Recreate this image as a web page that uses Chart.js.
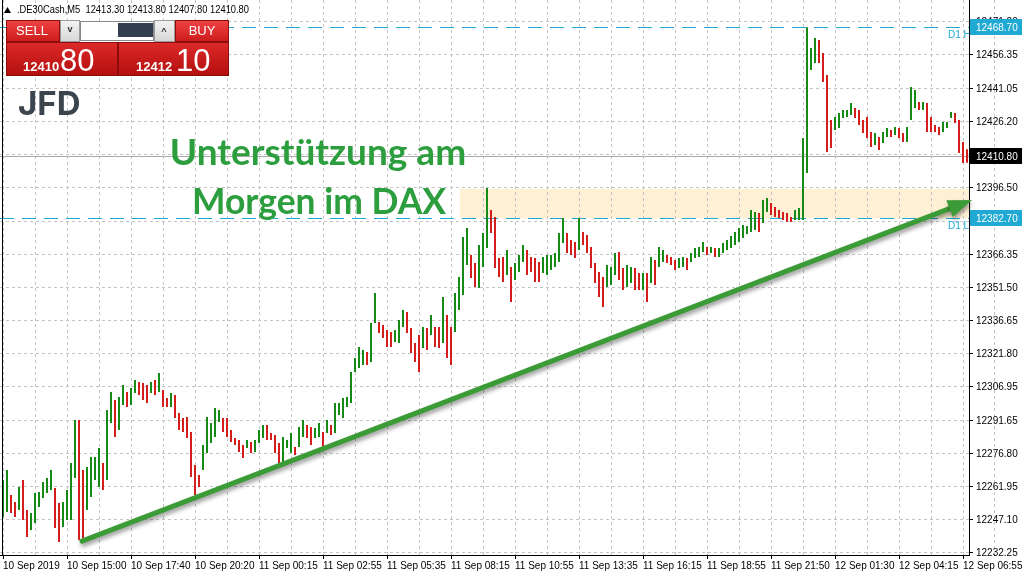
<!DOCTYPE html>
<html>
<head>
<meta charset="utf-8">
<script src="https://cdn.jsdelivr.net/npm/chart.js@4.4.1/dist/chart.umd.min.js"></script>
<style>
  html, body { margin: 0; padding: 0; background: #fff; overflow: hidden; }
  #wrap { width: 1024px; height: 576px; }
</style>
</head>
<body>
<div id="wrap"><canvas id="chart" width="1024" height="576"></canvas></div>
<script>
// Donnees : barres de 10 minutes (hauts / bas)
const highs = [
  12265.0, 12269.5, 12258.3, 12255.1, 12261.9, 12265.0, 12251.5, 12250.2, 12259.2, 12259.6,
  12264.1, 12265.9, 12269.5, 12261.4, 12254.7, 12255.1, 12260.5, 12272.7, 12292.0, 12292.0,
  12269.5, 12270.9, 12275.4, 12275.4, 12279.4, 12272.7, 12296.5, 12304.6, 12301.0, 12302.4,
  12307.8, 12304.6, 12306.4, 12310.0, 12309.1, 12308.7, 12307.8, 12309.1, 12310.0, 12313.2,
  12305.5, 12301.9, 12304.2, 12303.3, 12295.2, 12292.9, 12293.4, 12286.6, 12271.8, 12267.3,
  12280.8, 12293.4, 12290.7, 12297.4, 12296.5, 12292.9, 12292.9, 12287.5, 12283.9, 12283.0,
  12280.8, 12283.0, 12282.1, 12283.0, 12287.5, 12289.8, 12289.8, 12286.2, 12285.3, 12281.7,
  12284.4, 12283.0, 12286.2, 12279.9, 12288.9, 12292.0, 12289.8, 12288.9, 12288.4, 12290.7,
  12286.6, 12292.0, 12289.8, 12299.7, 12299.7, 12301.9, 12302.4, 12313.6, 12319.9, 12324.9,
  12323.5, 12322.6, 12335.7, 12349.2, 12336.1, 12334.8, 12332.5, 12331.6, 12332.5, 12337.0,
  12341.5, 12340.6, 12333.4, 12326.7, 12330.3, 12333.9, 12333.4, 12339.3, 12333.9, 12333.9,
  12347.4, 12339.3, 12333.9, 12349.2, 12356.4, 12374.4, 12378.4, 12366.3, 12362.7, 12370.8,
  12376.2, 12396.4, 12386.5, 12383.4, 12364.9, 12365.4, 12368.5, 12360.9, 12362.7, 12366.3,
  12370.8, 12368.5, 12365.4, 12364.9, 12363.1, 12365.4, 12366.3, 12366.3, 12367.2, 12376.2,
  12382.9, 12376.2, 12373.0, 12372.1, 12382.9, 12376.6, 12375.3, 12369.9, 12362.7, 12358.6,
  12356.4, 12361.8, 12360.9, 12367.2, 12367.6, 12360.4, 12361.8, 12360.9, 12360.4, 12358.2,
  12358.2, 12358.2, 12365.4, 12364.0, 12369.9, 12368.5, 12366.3, 12365.4, 12364.0, 12364.9,
  12365.4, 12364.9, 12367.2, 12369.4, 12369.9, 12372.1, 12369.9, 12369.9, 12369.4, 12369.4,
  12371.7, 12373.0, 12374.8, 12376.6, 12378.4, 12379.8, 12379.3, 12386.5, 12385.6, 12385.2,
  12391.0, 12391.9, 12389.7, 12387.9, 12386.5, 12385.6, 12385.2, 12383.4, 12386.5, 12387.4,
  12418.9, 12468.7, 12459.4, 12463.9, 12463.0, 12457.2, 12447.3, 12427.0, 12428.4, 12430.2,
  12431.5, 12431.5, 12434.7, 12432.4, 12431.5, 12427.0, 12428.4, 12421.6, 12421.2, 12419.4,
  12421.6, 12423.4, 12422.5, 12423.9, 12423.4, 12421.2, 12423.9, 12441.9, 12440.5, 12435.1,
  12435.1, 12434.7, 12428.4, 12424.8, 12423.9, 12426.1, 12426.1, 12430.6, 12430.2, 12427.0,
  12417.1, 12413.8
];
const lows = [
  12248.4, 12250.6, 12250.2, 12248.4, 12251.5, 12247.0, 12239.4, 12242.5, 12245.7, 12252.9,
  12256.9, 12259.2, 12260.5, 12243.4, 12237.1, 12243.9, 12247.0, 12247.0, 12265.9, 12238.0,
  12238.9, 12251.5, 12257.4, 12265.0, 12261.9, 12260.5, 12265.0, 12290.7, 12284.4, 12287.5,
  12298.8, 12297.9, 12298.8, 12304.2, 12303.3, 12301.0, 12299.7, 12304.2, 12303.3, 12304.6,
  12297.9, 12297.9, 12297.9, 12292.9, 12287.5, 12286.6, 12283.9, 12266.4, 12258.3, 12261.9,
  12269.5, 12277.2, 12281.7, 12284.4, 12291.1, 12286.6, 12284.4, 12282.1, 12280.8, 12277.6,
  12274.9, 12279.4, 12277.2, 12277.6, 12281.7, 12283.9, 12283.0, 12283.0, 12277.2, 12272.7,
  12273.1, 12279.4, 12277.2, 12276.3, 12279.9, 12284.4, 12283.9, 12280.8, 12283.9, 12284.4,
  12279.9, 12286.2, 12285.3, 12286.2, 12294.3, 12292.9, 12297.9, 12299.7, 12313.6, 12315.4,
  12316.8, 12316.8, 12318.1, 12335.7, 12331.2, 12328.9, 12324.9, 12324.9, 12327.1, 12326.7,
  12333.9, 12331.2, 12322.2, 12318.1, 12313.6, 12324.4, 12323.5, 12330.3, 12324.9, 12324.4,
  12326.7, 12319.9, 12316.8, 12331.6, 12341.5, 12348.3, 12361.8, 12355.9, 12351.9, 12351.4,
  12360.9, 12369.4, 12376.2, 12360.4, 12356.4, 12354.1, 12357.3, 12345.1, 12355.0, 12358.6,
  12363.1, 12357.3, 12358.6, 12354.1, 12354.1, 12358.2, 12357.3, 12359.5, 12360.9, 12363.1,
  12371.7, 12367.2, 12366.3, 12364.9, 12368.5, 12370.8, 12367.2, 12360.4, 12353.7, 12347.4,
  12342.9, 12351.9, 12352.8, 12357.3, 12355.0, 12350.5, 12351.9, 12353.7, 12350.5, 12350.5,
  12350.5, 12345.1, 12353.7, 12352.8, 12360.9, 12363.1, 12362.7, 12361.8, 12359.5, 12360.4,
  12360.9, 12359.5, 12363.1, 12364.9, 12365.4, 12367.6, 12366.3, 12367.2, 12365.4, 12365.4,
  12367.2, 12368.5, 12369.4, 12370.8, 12372.1, 12373.9, 12375.7, 12376.6, 12377.5, 12376.6,
  12380.7, 12385.6, 12384.3, 12383.4, 12382.9, 12382.0, 12381.1, 12381.1, 12382.0, 12382.0,
  12382.0, 12403.2, 12449.5, 12452.7, 12452.7, 12444.1, 12412.6, 12414.4, 12422.5, 12423.4,
  12427.9, 12428.4, 12429.3, 12427.9, 12424.8, 12421.2, 12418.9, 12414.9, 12415.8, 12413.5,
  12416.7, 12419.4, 12419.4, 12420.3, 12418.9, 12417.1, 12417.1, 12427.0, 12432.4, 12431.5,
  12431.5, 12421.6, 12421.6, 12421.6, 12420.3, 12421.6, 12423.4, 12427.9, 12425.7, 12412.2,
  12407.7, 12407.8
];

// Etiquettes de l'axe du temps (une tous les 32 bougies M5)
const timeLabels = [
  "10 Sep 2019", "10 Sep 15:00", "10 Sep 17:40", "10 Sep 20:20", "11 Sep 00:15", "11 Sep 02:55",
  "11 Sep 05:35", "11 Sep 08:15", "11 Sep 10:55", "11 Sep 13:35", "11 Sep 16:15", "11 Sep 18:55",
  "11 Sep 21:50", "12 Sep 01:30", "12 Sep 04:15", "12 Sep 06:55"
];
// Etiquettes de l'axe des prix
const priceTicks = [
  12232.25, 12247.10, 12261.95, 12276.80, 12291.65, 12306.95, 12321.80, 12336.65, 12351.50,
  12366.35, 12381.20, 12396.50, 12411.35, 12426.20, 12441.05, 12456.35, 12471.20
];

// En-tete et panneau de trading
const symbolName = ".DE30Cash,M5";
const lastOHLC = [12413.30, 12413.80, 12407.80, 12410.80];
const bidPrice = 12410.80;
const askPrice = 12412.10;
const dayHigh = 12468.70;
const dayLow = 12382.70;

// Zone de support et fleche (en index de bougie / prix)
const zoneStart = 228.5;
const zoneTop = 12396.0;
const arrowFrom = [39.5, 12237.5];
const arrowTo = [484.5, 12391.0];

const upColor = '#168a16';
const downColor = '#d41e1e';
const cyan = '#1fa9d3';
const fontFam = '"Liberation Sans", Arial, sans-serif';

// Construction des barres
const barData = highs.map((h, i) => ({ x: 2 * i, y: [lows[i], h] }));
const barColors = highs.map((h, i) => {
    const mid = (h + lows[i]) / 2;
    const prev = i ? (highs[i - 1] + lows[i - 1]) / 2 : mid - 1;
    return mid >= prev ? upColor : downColor;
});

// Dessins annexes : zone, lignes, fleche, textes, panneau
const overlay = {
    id: 'overlay',
    beforeDraw(c) {
        const { ctx, chartArea: a, scales: { x, y } } = c;
        ctx.save();
        ctx.fillStyle = '#fff';
        ctx.fillRect(0, 0, c.width, c.height);
        const zx = x.getPixelForValue(zoneStart);
        const zt = y.getPixelForValue(zoneTop);
        const zb = y.getPixelForValue(dayLow);
        ctx.fillStyle = '#fdf0d4';
        ctx.fillRect(zx, zt, a.right - zx, zb - zt);
        ctx.restore();
    },
    beforeDatasetsDraw(c) {
        const { ctx, chartArea: a, scales: { y } } = c;
        ctx.save();
        // ligne du prix courant
        const by = Math.round(y.getPixelForValue(bidPrice)) + 0.5;
        ctx.strokeStyle = '#a9a9a9';
        ctx.lineWidth = 1;
        ctx.beginPath(); ctx.moveTo(a.left, by); ctx.lineTo(a.right, by); ctx.stroke();
        // D1 haut / bas
        ctx.strokeStyle = cyan;
        ctx.setLineDash([14, 8]);
        [dayHigh, dayLow].forEach(p => {
            const py = Math.round(y.getPixelForValue(p)) + 0.5;
            ctx.beginPath(); ctx.moveTo(a.left, py); ctx.lineTo(a.right, py); ctx.stroke();
        });
        ctx.setLineDash([]);
        ctx.beginPath(); ctx.rect(a.left, a.top, a.right - a.left, a.bottom - a.top); ctx.clip();
        ctx.fillStyle = cyan;
        ctx.font = '10px ' + fontFam;
        ctx.textAlign = 'left';
        ctx.textBaseline = 'middle';
        ctx.fillText('D1 High', 948, y.getPixelForValue(dayHigh) + 8);
        ctx.fillText('D1 Low', 948, y.getPixelForValue(dayLow) + 8);
        ctx.restore();
    },
    afterDatasetsDraw(c) {
        const { ctx, scales: { x, y } } = c;
        ctx.save();
        // fleche verte
        const x1 = x.getPixelForValue(arrowFrom[0]), y1 = y.getPixelForValue(arrowFrom[1]);
        const x2 = x.getPixelForValue(arrowTo[0]), y2 = y.getPixelForValue(arrowTo[1]);
        const ang = Math.atan2(y2 - y1, x2 - x1);
        const headLen = 24, headW = 9;
        const hx = x2 - headLen * Math.cos(ang), hy = y2 - headLen * Math.sin(ang);
        ctx.shadowColor = 'rgba(0,0,0,0.4)';
        ctx.shadowBlur = 4;
        ctx.shadowOffsetX = 1;
        ctx.shadowOffsetY = 3;
        ctx.strokeStyle = '#3b9b36';
        ctx.fillStyle = '#3b9b36';
        ctx.lineWidth = 5;
        ctx.lineCap = 'round';
        ctx.beginPath(); ctx.moveTo(x1, y1); ctx.lineTo(hx, hy); ctx.stroke();
        ctx.beginPath();
        ctx.moveTo(x2, y2);
        ctx.lineTo(hx + headW * Math.sin(ang), hy - headW * Math.cos(ang));
        ctx.lineTo(hx - headW * Math.sin(ang), hy + headW * Math.cos(ang));
        ctx.closePath(); ctx.fill();
        ctx.restore();

        // titre
        ctx.save();
        ctx.fillStyle = '#2c9e3e';
        ctx.font = 'bold 37px Lato, "Open Sans", sans-serif';
        ctx.textAlign = 'center';
        ctx.textBaseline = 'alphabetic';
        ctx.fillText('Unterstützung am', 318, 165, 302);
        ctx.fillText('Morgen im DAX', 319, 214, 254);
        ctx.restore();
    },
    afterDraw(c) {
        const { ctx, chartArea: a, scales: { y } } = c;
        ctx.save();
        // bord gauche
        ctx.fillStyle = '#000';
        ctx.fillRect(2, 0, 1, a.bottom);

        // etiquettes de prix
        const tag = (p, bg) => {
            const py = Math.round(y.getPixelForValue(p));
            ctx.fillStyle = bg;
            ctx.fillRect(a.right + 1, py - 8, 52, 16);
            ctx.fillStyle = '#fff';
            ctx.font = '10px ' + fontFam;
            ctx.textAlign = 'left';
            ctx.textBaseline = 'middle';
            ctx.fillText(p.toFixed(2), a.right + 7, py + 1);
        };
        tag(dayHigh, cyan);
        tag(bidPrice, '#000');
        tag(dayLow, cyan);

        // en-tete
        ctx.fillStyle = '#000';
        ctx.beginPath(); ctx.moveTo(4, 13); ctx.lineTo(11, 13); ctx.lineTo(7.5, 7); ctx.closePath(); ctx.fill();
        ctx.font = '11px ' + fontFam;
        ctx.textAlign = 'left';
        ctx.textBaseline = 'middle';
        const head = symbolName + '  ' + lastOHLC.map(v => v.toFixed(2)).join(' ');
        ctx.fillText(head, 17, 10, 232);

        // panneau vente / achat
        const redBox = (x0, y0, w, h, top, bot) => {
            const g = ctx.createLinearGradient(0, y0, 0, y0 + h);
            g.addColorStop(0, top); g.addColorStop(1, bot);
            ctx.fillStyle = g;
            ctx.fillRect(x0, y0, w, h);
            ctx.strokeStyle = '#8e0c0c';
            ctx.lineWidth = 1;
            ctx.strokeRect(x0 + 0.5, y0 + 0.5, w - 1, h - 1);
        };
        const grayBox = (x0, y0, w, h) => {
            const g = ctx.createLinearGradient(0, y0, 0, y0 + h);
            g.addColorStop(0, '#f4f4f4'); g.addColorStop(1, '#d6d6d6');
            ctx.fillStyle = g;
            ctx.fillRect(x0, y0, w, h);
            ctx.strokeStyle = '#9a9a9a';
            ctx.strokeRect(x0 + 0.5, y0 + 0.5, w - 1, h - 1);
        };
        redBox(6, 20, 54, 22, '#f04444', '#cc1a1a');
        redBox(175, 20, 54, 22, '#f04444', '#cc1a1a');
        grayBox(60, 20, 20, 22);
        grayBox(154, 20, 21, 22);
        ctx.fillStyle = '#fff';
        ctx.fillRect(80, 21, 74, 20);
        ctx.strokeStyle = '#8a8a8a';
        ctx.strokeRect(80.5, 21.5, 73, 19);
        ctx.fillStyle = '#34404f';
        ctx.fillRect(118, 23, 35, 14);
        ctx.fillStyle = '#333';
        ctx.font = 'bold 9px ' + fontFam;
        ctx.textAlign = 'center';
        ctx.fillText('v', 70, 30);
        ctx.fillText('^', 164, 32);
        redBox(6, 42, 112, 34, '#de2a2a', '#b20e0e');
        redBox(118, 42, 111, 34, '#de2a2a', '#b20e0e');
        ctx.fillStyle = '#fff';
        ctx.font = '13px ' + fontFam;
        ctx.fillText('SELL', 32, 31);
        ctx.fillText('BUY', 202, 31);
        ctx.textAlign = 'left';
        ctx.textBaseline = 'alphabetic';
        const bidTxt = bidPrice.toFixed(2).split('.');
        const askTxt = askPrice.toFixed(2).split('.');
        ctx.font = 'bold 13px ' + fontFam;
        ctx.fillText(bidTxt[0], 23, 71);
        ctx.fillText(askTxt[0], 136, 71);
        ctx.font = '31px ' + fontFam;
        ctx.fillText(bidTxt[1], 60, 71);
        ctx.fillText(askTxt[1], 176, 71);

        // logo
        ctx.fillStyle = '#3c444e';
        ctx.font = 'bold 33px Inter, Roboto, sans-serif';
        ctx.fillText('JFD', 18, 115);
        ctx.restore();
    }
};

new Chart(document.getElementById('chart'), {
    type: 'bar',
    data: {
        datasets: [{
            data: barData,
            backgroundColor: barColors,
            borderWidth: 0,
            barThickness: 2,
            inflateAmount: 0,
            grouped: false
        }]
    },
    options: {
        responsive: false,
        animation: false,
        devicePixelRatio: 1,
        layout: { padding: 0 },
        plugins: { legend: { display: false }, tooltip: { enabled: false } },
        scales: {
            x: {
                type: 'linear',
                min: -1.5,
                max: 483,
                offset: false,
                afterBuildTicks: s => { s.ticks = timeLabels.flatMap((t, i) => [{ value: 32 * i }, { value: 32 * i + 16 }]); },
                afterFit: s => { s.height = 21; s.paddingLeft = 0; s.paddingRight = 0; },
                ticks: {
                    autoSkip: false, maxRotation: 0, minRotation: 0, align: 'start', padding: 1,
                    color: '#000', font: { family: fontFam, size: 10 },
                    callback: v => (Math.round(v) % 32 === 0 ? timeLabels[Math.round(v) / 32] : '')
                },
                grid: {
                    offset: false, color: '#c4c4c4', lineWidth: 1, tickLength: 4,
                    tickColor: ctx => (ctx.tick && Math.round(ctx.tick.value) % 32 === 0 ? '#000' : 'rgba(0,0,0,0)')
                },
                border: { display: true, color: '#000', width: 1, dash: [3, 3] }
            },
            y: {
                position: 'right',
                min: 12231.25,
                max: 12481.0,
                beginAtZero: false,
                afterBuildTicks: s => { s.ticks = priceTicks.map(v => ({ value: v })); },
                afterFit: s => { s.width = 55; s.paddingTop = 0; s.paddingBottom = 0; },
                ticks: {
                    padding: 3, color: '#000', font: { family: fontFam, size: 10 },
                    callback: v => Number(v).toFixed(2)
                },
                grid: { color: '#c4c4c4', lineWidth: 1, tickLength: 4, tickColor: '#000' },
                border: { display: true, color: '#000', width: 1, dash: [3, 3] }
            }
        }
    },
    plugins: [overlay]
});
</script>
</body>
</html>
